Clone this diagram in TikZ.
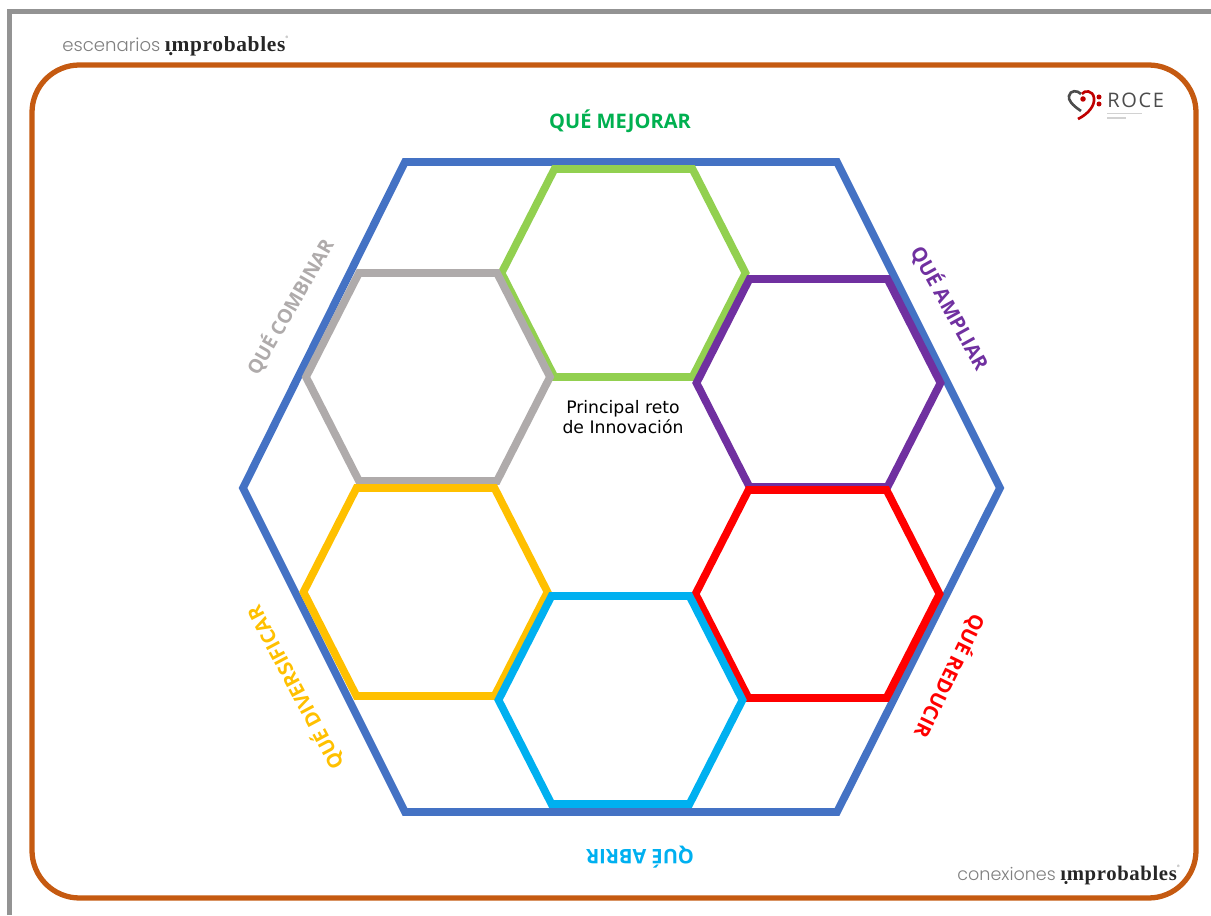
\documentclass[tikz,border=0pt]{standalone}
\usepackage{fontspec, tkz-euclide}
\setmainfont{Open Sans}
\newfontfamily\reto{DejaVu Sans}
\newfontfamily\thin{Poppins Light}
\newfontfamily\slab[LetterSpace=3]{Liberation Serif}
\newfontfamily\logo[LetterSpace=8]{Open Sans}
\definecolor{marco}{HTML}{C55A11}
\definecolor{azul}{HTML}{4472C4}
\definecolor{verde}{HTML}{92D050}
\definecolor{verdeT}{HTML}{00B050}
\definecolor{morado}{HTML}{7030A0}
\definecolor{celeste}{HTML}{00B0F0}
\definecolor{ambar}{HTML}{FFC000}
\definecolor{gris}{HTML}{AFABAB}
\tikzset{
    hexline/.style = {line width=4.4pt, line join=miter, miter limit=10},
    etiqueta/.style = {font=\bfseries\fontsize{11.4}{13}\selectfont, inner sep=0pt},
    marca/.style = {anchor=west, inner sep=0pt}
}
\begin{document}
\begin{tikzpicture}
    \useasboundingbox (0,0) rectangle (24.22,18.30);
    \draw[line width=2.6pt, color=gray!85] (0.19,0) -- (0.19,18.07) -- (24.22,18.07);
    \draw[line width=3pt, color=marco, rounded corners=0.95cm] (0.64,0.34) rectangle (23.92,17.00);
    \tkzDefPoints{8.10/15.06/A, 16.74/15.06/B, 20.00/8.54/C, 16.74/2.06/D, 8.10/2.06/E, 4.86/8.54/F}
    \tkzDrawPolygon[hexline, color=azul](A,B,C,D,E,F)
    \foreach \cx/\cy/\col in {12.47/12.84/verde, 8.56/10.76/gris, 16.37/10.64/morado, 8.51/6.46/ambar, 16.35/6.42/red, 12.41/4.30/celeste}{
        \tkzDefPoint(\cx,\cy){M}
        \tkzDefShiftPoint[M](-1.38,2.08){P}
        \tkzDefShiftPoint[M](1.38,2.08){Q}
        \tkzDefShiftPoint[M](2.44,0){R}
        \tkzDefShiftPoint[M](1.38,-2.08){S}
        \tkzDefShiftPoint[M](-1.38,-2.08){T}
        \tkzDefShiftPoint[M](-2.44,0){U}
        \tkzDrawPolygon[hexline, color=\col](P,Q,R,S,T,U)
    }
    \node[etiqueta, color=verdeT] (mejorar) at (12.40,15.88) {QUÉ MEJORAR};
    \node[etiqueta, color=gris, rotate=60, font=\bfseries\fontsize{11}{13}\selectfont] (combinar) at (5.80,12.16) {QUÉ COMBINAR};
    \node[etiqueta, color=morado, rotate=-61] (ampliar) at (19.00,12.14) {QUÉ AMPLIAR};
    \node[etiqueta, color=red, rotate=-116] (reducir) at (19.00,4.78) {QUÉ REDUCIR};
    \node[etiqueta, color=celeste, rotate=180] (abrir) at (12.80,1.16) {QUÉ ABRIR};
    \node[etiqueta, color=ambar, rotate=118] (diversificar) at (5.90,4.54) {QUÉ DIVERSIFICAR};
    \node[align=center, inner sep=0pt, font=\reto\fontsize{9.8}{11.3}\selectfont] (principal) at (12.46,9.96) {Principal reto\\de Innovación};
    \node[marca] (escenarios) at (1.24,17.38) {{\thin\fontsize{10.3}{12}\selectfont\color{gray}escenarios} {\slab\bfseries\fontsize{12.2}{14}\selectfont\color{black!85}\d{\i}mprobables}{\thin\fontsize{3.5}{4}\selectfont\color{gray}\raisebox{6pt}{®}}};
    \node[marca] (conexiones) at (19.14,0.80) {{\thin\fontsize{10}{12}\selectfont\color{gray}conexiones} {\slab\bfseries\fontsize{11.8}{14}\selectfont\color{black!85}\d{\i}mprobables}{\thin\fontsize{3.5}{4}\selectfont\color{gray}\raisebox{6pt}{®}}};
    \draw[line width=1.5pt, color=gray!60!black] (21.62,16.08) .. controls (21.44,16.20) and (21.36,16.30) .. (21.38,16.38) .. controls (21.40,16.50) and (21.55,16.50) .. (21.62,16.42);
    \draw[line width=1.5pt, color=red!75!black] (21.56,15.92) .. controls (21.76,16.02) and (21.90,16.18) .. (21.88,16.34) .. controls (21.86,16.50) and (21.68,16.50) .. (21.64,16.42);
    \fill[color=red!75!black] (21.66,16.32) circle (0.055);
    \fill[color=red!75!black] (21.98,16.36) circle (0.05);
    \fill[color=red!75!black] (21.98,16.22) circle (0.05);
    \node[anchor=west, inner sep=0pt, color=black!70, font=\logo\fontsize{11.4}{12}\selectfont] (roce) at (22.14,16.29) {ROCE};
    \draw[line width=0.6pt, color=gray!35] (22.14,16.03) -- (22.84,16.03);
    \draw[line width=0.6pt, color=gray!35] (22.14,15.94) -- (22.52,15.94);
\end{tikzpicture}
\end{document}
